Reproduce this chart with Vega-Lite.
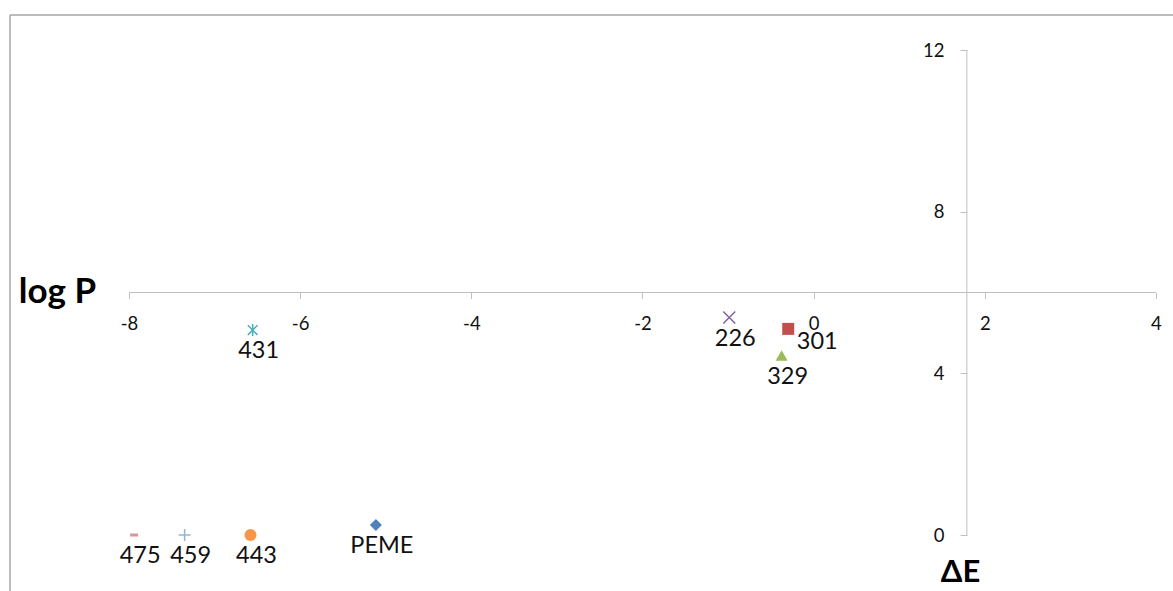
{
  "$schema": "https://vega.github.io/schema/vega-lite/v6.json",
  "autosize": "none",
  "padding": {"left": 10, "top": 15, "right": 0, "bottom": 0},
  "width": 1163,
  "height": 576,
  "background": "white",
  "config": {"view": {"stroke": null}, "font": "Lato"},
  "datasets": {
    "points": [
      {"label": "PEME", "x": -5.115, "y": 0.25},
      {"label": "301", "x": -0.297, "y": 5.10},
      {"label": "329", "x": -0.374, "y": 4.44},
      {"label": "226", "x": -0.986, "y": 5.38},
      {"label": "431", "x": -6.555, "y": 5.07},
      {"label": "443", "x": -6.58, "y": 0},
      {"label": "459", "x": -7.35, "y": 0},
      {"label": "475", "x": -7.94, "y": 0}
    ],
    "axislines": [
      {"x": -8, "x2": 4, "y": 6, "y2": 6},
      {"x": 1.79, "x2": 1.79, "y": 0, "y2": 12}
    ],
    "frame": [
      {"x": -9.3905, "x2": 4.199, "y": 12.866, "y2": 12.866},
      {"x": -9.3905, "x2": -9.3905, "y": 12.866, "y2": -1.385}
    ]
  },
  "encoding": {
    "x": {
      "field": "x", "type": "quantitative",
      "scale": {"domain": [-9.3905, 4.199], "nice": false, "zero": false},
      "axis": {
        "orient": "bottom", "offset": -298.5, "domain": false, "grid": false,
        "values": [-8, -6, -4, -2, 0, 2, 4],
        "labelExpr": "datum.value < 0 ? '-' + abs(datum.value) : '' + datum.value",
        "tickSize": 6, "tickColor": "#bfbfbf", "tickWidth": 1,
        "labelFont": "Lato", "labelFontSize": 18.5, "labelColor": "#111111",
        "labelPadding": 16, "labelFlush": false, "labelOverlap": false,
        "title": "ΔE", "titleFont": "Lato", "titleFontSize": 31, "titleFontWeight": "bold",
        "titleColor": "#000000", "titleX": 950, "titleY": 280,
        "titleAlign": "center", "titleBaseline": "middle", "titleAngle": 0
      }
    },
    "y": {
      "field": "y", "type": "quantitative",
      "scale": {"domain": [-1.385, 12.866], "nice": false, "zero": false},
      "axis": {
        "orient": "left", "offset": -957, "domain": false, "grid": false,
        "values": [0, 4, 8, 12],
        "tickSize": 7, "tickColor": "#bfbfbf", "tickWidth": 1,
        "labelFont": "Lato", "labelFontSize": 18.5, "labelColor": "#111111",
        "labelPadding": 16, "labelFlush": false, "labelOverlap": false,
        "title": "log P", "titleFont": "Lato", "titleFontSize": 35, "titleFontWeight": "bold",
        "titleColor": "#000000", "titleX": -910, "titleY": 276,
        "titleAlign": "center", "titleBaseline": "middle", "titleAngle": 0
      }
    }
  },
  "layer": [
    {
      "data": {"name": "frame"},
      "mark": {"type": "rule", "color": "#a6a6a6", "strokeWidth": 1.5},
      "encoding": {
        "x2": {"field": "x2"},
        "y2": {"field": "y2"}
      }
    },
    {
      "data": {"name": "axislines"},
      "mark": {"type": "rule", "color": "#bfbfbf", "strokeWidth": 1},
      "encoding": {
        "x2": {"field": "x2"},
        "y2": {"field": "y2"}
      }
    },
    {
      "data": {"name": "points"},
      "transform": [{"filter": {"field": "label", "oneOf": ["PEME", "301", "329", "443", "475"]}}],
      "mark": {"type": "point", "filled": true, "opacity": 1, "size": 144},
      "encoding": {
        "shape": {
          "field": "label", "type": "nominal", "legend": null,
          "scale": {
            "domain": ["PEME", "301", "329", "226", "431", "443", "459", "475"],
            "range": ["diamond", "square", "triangle-up", "M-1,-1L1,1M-1,1L1,-1", "M-0.8,-0.8L0.8,0.8M-0.8,0.8L0.8,-0.8M0,-1L0,1", "circle", "M-1,0L1,0M0,-1L0,1", "M-0.67,-0.25L0.67,-0.25L0.67,0.25L-0.67,0.25Z"]
          }
        },
        "color": {
          "field": "label", "type": "nominal", "legend": null,
          "scale": {
            "domain": ["PEME", "301", "329", "226", "431", "443", "459", "475"],
            "range": ["#4F81BD", "#C0504D", "#9BBB59", "#8064A2", "#4BACC6", "#F79646", "#95B3D7", "#D99694"]
          }
        }
      }
    },
    {
      "data": {"name": "points"},
      "transform": [{"filter": {"field": "label", "oneOf": ["226", "431", "459"]}}],
      "mark": {"type": "point", "filled": false, "opacity": 1, "size": 144, "strokeWidth": 1.5},
      "encoding": {
        "shape": {"field": "label", "type": "nominal", "legend": null},
        "color": {"field": "label", "type": "nominal", "legend": null}
      }
    },
    {
      "data": {"name": "points"},
      "transform": [{"filter": "datum.label != '301'"}],
      "mark": {"type": "text", "font": "Lato", "fontSize": 23.5, "color": "#111111", "align": "center", "baseline": "middle", "dx": 6, "dy": 21},
      "encoding": {"text": {"field": "label", "type": "nominal"}}
    },
    {
      "data": {"name": "points"},
      "transform": [{"filter": "datum.label == '301'"}],
      "mark": {"type": "text", "font": "Lato", "fontSize": 23.5, "color": "#111111", "align": "center", "baseline": "middle", "dx": 29, "dy": 13},
      "encoding": {"text": {"field": "label", "type": "nominal"}}
    }
  ]
}
